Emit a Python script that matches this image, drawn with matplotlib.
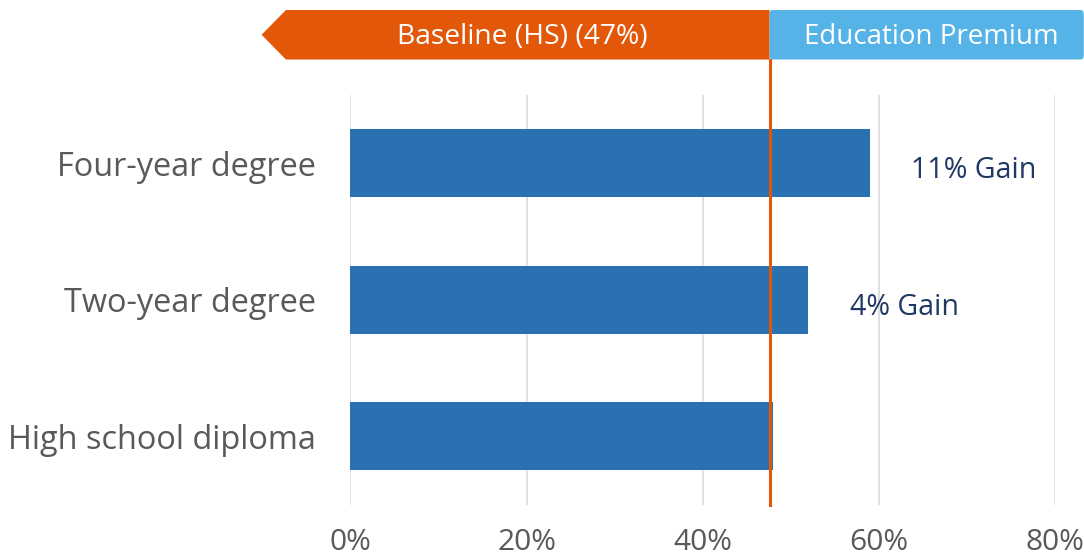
import matplotlib
matplotlib.use("Agg")
import matplotlib.pyplot as plt
import matplotlib.transforms as mtransforms
from matplotlib.patches import Polygon, FancyBboxPatch

plt.rcParams['font.family'] = ['Open Sans', 'DejaVu Sans']

# Data
categories = ["High school diploma", "Two-year degree", "Four-year degree"]
values = [48, 52, 59]                 # share, percent
baseline = 47.6                       # high-school baseline marker, percent
gains = [None, 4, 11]                 # premium over the high-school diploma
gain_labels = [None, "4% Gain", "11% Gain"]
x_ticks = [0, 20, 40, 60, 80]
x_tick_labels = ["0%", "20%", "40%", "60%", "80%"]
banner_left = "Baseline (HS) (47%)"
banner_right = "Education Premium"

BAR = "#2971B0"
ORANGE = "#E35709"
SKY = "#56B3E8"
GRID = "#D9D9D9"
GREY = "#595959"
NAVY = "#1F3864"

fig = plt.figure(figsize=(10.84, 5.60), dpi=100)
ax = fig.add_axes([0.3233, 0.0991, 0.9732 - 0.3233, 0.8304 - 0.0991])

ypos = list(range(len(categories)))
ax.barh(ypos, values, height=0.5, color=BAR, zorder=2)

ax.set_xlim(0, 80)
ax.set_ylim(-0.5, len(categories) - 0.5)
ax.set_xticks(x_ticks)
ax.set_xticklabels(x_tick_labels, fontsize=21.5, color=GREY)
ax.set_yticks(ypos)
ax.set_yticklabels(categories, fontsize=23.4, color=GREY)
ax.tick_params(axis='both', length=0)
ax.tick_params(axis='x', pad=17)
ax.tick_params(axis='y', pad=25)
for s in ax.spines.values():
    s.set_visible(False)
ax.grid(axis='x', color=GRID, linewidth=1.2, zorder=0)
ax.set_axisbelow(True)

# Gain annotations beside the bars, sitting slightly below bar centre
for y, v, g, lab in zip(ypos, values, gains, gain_labels):
    if g is None:
        continue
    ax.text(v + 4.7, y - 0.055, lab, ha='left', va='center', fontsize=20.6,
            color=NAVY)

# Baseline marker running up into the banner
trans = mtransforms.blended_transform_factory(ax.transData, fig.transFigure)
y_bot = 1 - 59.5 / 560
y_top = 1 - 10 / 560
ax.plot([baseline, baseline], [0.0991, y_bot], transform=trans,
        color=ORANGE, linewidth=2.2, clip_on=False, zorder=4)

# Banner: orange arrow pointing left, sky-blue block to the right
tip_x = (261.7 - 350.5) / 8.8
body_x = (286 - 350.5) / 8.8
right_x = (1083.3 - 350.5) / 8.8
y_mid = (y_bot + y_top) / 2
arrow = Polygon([(tip_x, y_mid), (body_x, y_top), (baseline, y_top),
                 (baseline, y_bot), (body_x, y_bot)], closed=True,
                facecolor=ORANGE, edgecolor='none', transform=trans,
                clip_on=False)
ax.add_patch(arrow)
block = FancyBboxPatch((baseline, y_bot), right_x - baseline, y_top - y_bot,
                       boxstyle="round,pad=0,rounding_size=0.35",
                       mutation_aspect=0.02,
                       facecolor=SKY, edgecolor='none', transform=trans,
                       clip_on=False)
ax.add_patch(block)
text_y = y_mid - 2 / 560
ax.text((body_x + baseline) / 2 - 0.57, text_y, banner_left, transform=trans,
        ha='center', va='center', fontsize=20.3, color='white')
ax.text((baseline + right_x) / 2 + 0.57, text_y, banner_right, transform=trans,
        ha='center', va='center', fontsize=20, color='white')

fig.savefig("out.png", dpi=100)
